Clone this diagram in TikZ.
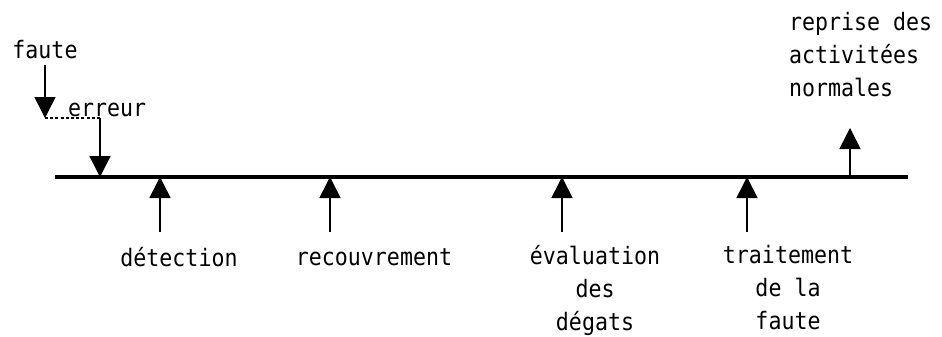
\documentclass[tikz,border=0pt]{standalone}
\usepackage{fontspec}
\setmonofont[FakeStretch=0.9]{DejaVu Sans Mono}
\usetikzlibrary{arrows.meta}
\begin{document}
\begin{tikzpicture}[x=1pt,y=-1pt,
  lbl/.style={font=\ttfamily\fontsize{24}{33}\selectfont, inner sep=0pt, align=center},
  axis/.style={line width=3.4pt},
  evt/.style={line width=1.6pt, -{Triangle[width=21pt,length=21pt]}},
  link/.style={line width=1.6pt, dash pattern=on 3pt off 2.2pt}]
\useasboundingbox (0,0) rectangle (942,337);

% time axis
\coordinate (start) at (55,177);
\coordinate (end) at (908,177);
\draw[axis] (start) -- (end);

% points on the axis
\coordinate (pErr) at (100,177);
\coordinate (pDet) at (160,177);
\coordinate (pRec) at (330,177);
\coordinate (pEval) at (562,177);
\coordinate (pTrt) at (747,177);
\coordinate (pRep) at (850,177);

% fault and error
\node[lbl] (faute) at (45,50) {faute};
\coordinate (fTip) at (45,118);
\draw[evt] (faute.south -| fTip) ++(0,6) -- (fTip);
\node[lbl, anchor=base west] (erreur) at (68,116) {erreur};
\coordinate (eCorner) at (100,118);
\draw[link] (fTip) -- (eCorner);
\draw[evt] (eCorner) -- (pErr);

% recovery steps below the axis
\node[lbl] (det) at (179,257) {détection};
\node[lbl] (rec) at (374,257) {recouvrement};
\node[lbl, anchor=north] (eval) at (595,245) {évaluation\\des\\dégats};
\node[lbl, anchor=north] (trt) at (788,245) {traitement\\de la\\faute};

\coordinate (bDet) at (160,232);
\coordinate (bRec) at (330,232);
\coordinate (bEval) at (562,232);
\coordinate (bTrt) at (747,232);
\draw[evt] (bDet) -- (pDet);
\draw[evt] (bRec) -- (pRec);
\draw[evt] (bEval) -- (pEval);
\draw[evt] (bTrt) -- (pTrt);

% return to normal operation
\node[lbl, align=left, anchor=north west] (rep) at (789,12) {reprise des\\activitées\\normales};
\coordinate (tRep) at (850,128);
\draw[evt] (pRep) -- (tRep);
\end{tikzpicture}
\end{document}
